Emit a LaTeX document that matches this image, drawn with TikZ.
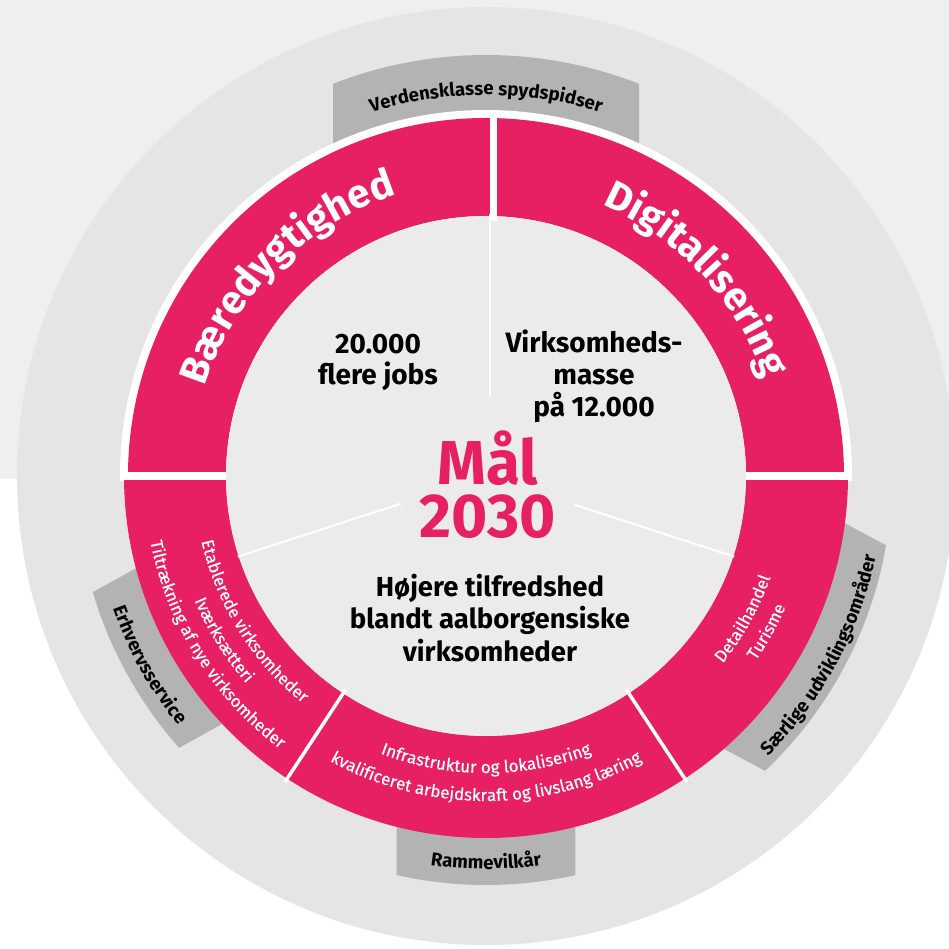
\documentclass[tikz,border=0pt]{standalone}
\usepackage{fontspec}
\setmainfont{Fira Sans}
\newfontfamily\firamed{Fira Sans}[FakeBold=0.4]
\usetikzlibrary{decorations.text}
\definecolor{pinkc}{RGB}{231,32,99}
\definecolor{tabc}{RGB}{179,179,179}
\definecolor{outerc}{RGB}{229,229,229}
\definecolor{innerc}{RGB}{235,235,235}
\definecolor{topbg}{RGB}{239,239,239}
\newcommand\mytab[3]{%
  \begin{scope}[rotate=#1]
    \fill[tabc] (0,-#2) -- ({#3*cos(asin(#2/#3))},-#2)
      arc[start angle={-asin(#2/#3)}, end angle={asin(#2/#3)}, radius=#3]
      -- (0,#2) -- cycle;
  \end{scope}}
\tikzset{
  bigwhite/.style={decorate, decoration={text along path, text align=center, text color=white,
      text={|\fontsize{40}{40}\selectfont\bfseries|#1}}},
  smallwhite/.style={decorate, decoration={text along path, text align=center, text color=white,
      text={|\fontsize{17}{17}\firamed\selectfont|#1}}},
  tablabel/.style={decorate, decoration={text along path, text align=center, text color=black,
      text={|\fontsize{18.6}{18.6}\selectfont\bfseries|#1}}},
  whiteline/.style={draw=white, line width=2pt},
  divider/.style={draw=white, line width=3.5pt},
  innertext/.style={align=center, text=black, font=\fontsize{28}{32}\selectfont\bfseries},
  goaltext/.style={align=center, text=black, font=\fontsize{27.5}{32}\selectfont\bfseries},
  bigpink/.style={text=pinkc, font=\fontsize{62}{62}\selectfont\bfseries},
}
\begin{document}
\begin{tikzpicture}[x=1pt,y=1pt]
  % background
  \fill[white] (-486,-473) rectangle (463,476);
  \fill[topbg] (-486,-3) rectangle (463,476);
  \useasboundingbox (-486,-473) rectangle (463,476);
  % outer circle
  \fill[outerc] (0,0) circle (469);
  % tabs
  \mytab{90}{153}{421}
  \mytab{270}{89.5}{409}
  \mytab{209}{89}{410}
  \mytab{-28.2}{128}{406}
  % white ring on the top half
  \begin{scope}
    \clip (-400,-5) rectangle (400,400);
    \fill[white] (0,0) circle (366);
  \end{scope}
  % pink ring, top half
  \begin{scope}
    \clip (-400,4) rectangle (400,400);
    \fill[pinkc, even odd rule] (0,0) circle (358) (0,0) circle (260);
  \end{scope}
  % pink ring, bottom half
  \begin{scope}
    \clip (-400,-5) rectangle (400,-400);
    \fill[pinkc, even odd rule] (0,0) circle (362) (0,0) circle (260);
  \end{scope}
  % inner disk
  \fill[innerc] (0,0) circle (260);
  % dividers
  \draw[draw=white, line width=7pt] (7,255) -- (7,362);
  \draw[divider] (236.7:255) -- (236.7:366);
  \draw[divider] (303.3:255) -- (303.3:366);
  % thin inner lines
  \draw[whiteline] (4,79) -- (4,262);
  \draw[whiteline] (198:90) -- (198:261);
  \draw[whiteline] (-18:93) -- (-18:261);
  % ring headings
  \path[bigwhite={Bæredygtighed}] (180:295) arc[start angle=180, end angle=90, radius=295];
  \path[bigwhite={Digitalisering}] (88:295) arc[start angle=88, end angle=-2, radius=295];
  % tab labels
  \path[tablabel={Verdensklasse spydspidser}] (130:381) arc[start angle=130, end angle=50, radius=381];
  \path[tablabel={Rammevilkår}] (240:393) arc[start angle=240, end angle=300, radius=393];
  \path[tablabel={Erhvervsservice}] (179.3:396) arc[start angle=179.3, end angle=239.3, radius=396];
  \path[tablabel={Særlige udviklingsområder}] (-63.2:398) arc[start angle=-63.2, end angle=6.8, radius=398];
  % small pink texts, left section
  \path[smallwhite={Etablerede virksomheder}] (152:292) arc[start angle=152, end angle=272, radius=292];
  \path[smallwhite={Iværksætteri}] (152:317) arc[start angle=152, end angle=272, radius=317];
  \path[smallwhite={Tiltrækning af nye virksomheder}] (152:342) arc[start angle=152, end angle=272, radius=342];
  % bottom section
  \path[smallwhite={Infrastruktur og lokalisering}] (210:297) arc[start angle=210, end angle=330, radius=297];
  \path[smallwhite={kvalificeret arbejdskraft og livslang læring}] (210:325) arc[start angle=210, end angle=330, radius=325];
  % right section
  \path[smallwhite={Detailhandel}] (-89:302) arc[start angle=-89, end angle=31, radius=302];
  \path[smallwhite={Turisme}] (-89:327) arc[start angle=-89, end angle=31, radius=327];
  % inner texts
  \node[innertext, anchor=base] (jobs1) at (-108,122) {20.000};
  \node[innertext, anchor=base] (jobs2) at (-108,91) {flere jobs};
  \node[innertext, anchor=base] (virk1) at (108,123) {Virksomheds-};
  \node[innertext, anchor=base] (virk2) at (108,91) {masse};
  \node[innertext, anchor=base] (virk3) at (108,59) {på 12.000};
  \node[bigpink, anchor=base] (maal) at (2,-9) {Mål};
  \node[bigpink, anchor=base] (aar) at (1.5,-62) {2030};
  \node[goaltext, anchor=base] (h1) at (4,-121) {Højere tilfredshed};
  \node[goaltext, anchor=base] (h2) at (4,-153) {blandt aalborgensiske};
  \node[goaltext, anchor=base] (h3) at (4,-185) {virksomheder};
\end{tikzpicture}
\end{document}
